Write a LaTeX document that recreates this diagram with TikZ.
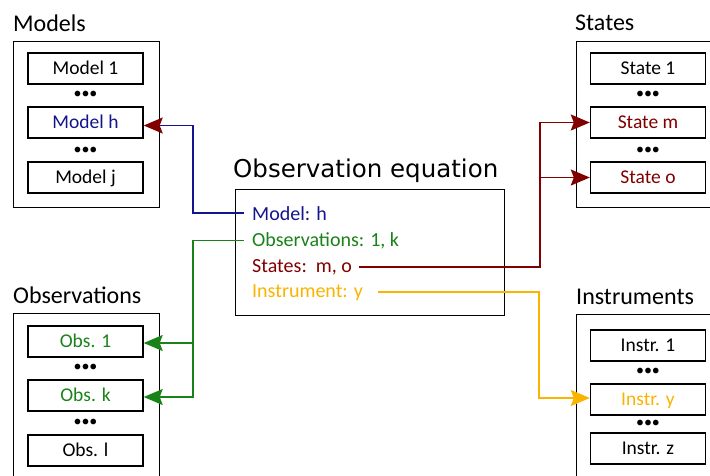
\documentclass[tikz,border=0pt]{standalone}
\usepackage{fontspec}
\setmainfont{Carlito}
\newfontfamily\eqfont{DejaVu Sans}
\usetikzlibrary{arrows.meta}
\definecolor{mblue}{RGB}{20,20,140}
\definecolor{mgreen}{RGB}{25,130,25}
\definecolor{mred}{RGB}{128,0,0}
\definecolor{mgold}{RGB}{250,180,0}
\begin{document}
\begin{tikzpicture}[x=1pt,y=-1pt,
  item/.style={draw, line width=1.4pt, minimum width=115pt, minimum height=31pt,
    inner sep=0pt, text height=14pt, text depth=2pt, font=\fontsize{19.5}{19.5}\selectfont},
  group/.style={draw, line width=1.4pt, anchor=north west, inner sep=0pt},
  heading/.style={anchor=base west, inner sep=0pt, font=\fontsize{24}{24}\selectfont},
  ellip/.style={inner sep=0pt, font=\fontsize{16}{16}\selectfont},
  lbl/.style={anchor=base west, inner sep=0pt, font=\fontsize{20}{20}\selectfont},
  conn/.style={line width=1.5pt},
  tip/.style={-{Stealth[length=19pt,width=16pt,inset=3pt,#1]}},
  tip/.default={}
]
\useasboundingbox (0,0) rectangle (710,475);

% ---- Models ----
\node[heading] (tmodels) at (13,31) {Models};
\node[group, minimum width=146pt, minimum height=166pt] (gmodels) at (13,41) {};
\node[item] (m1) at (85.5,68.5) {Model 1};
\node[ellip] (md1) at (85.5,95) {•••};
\node[item, text=mblue] (mh) at (85.5,122.5) {Model h};
\node[ellip] (md2) at (85.5,151) {•••};
\node[item] (mj) at (85.5,177.5) {Model j};

% ---- States ----
\node[heading] (tstates) at (575,30) {States};
\node[group, minimum width=150pt, minimum height=166pt] (gstates) at (576,41) {};
\node[item] (s1) at (648,68.5) {State 1};
\node[ellip] (sd1) at (648,95) {•••};
\node[item, text=mred] (sm) at (648,122.5) {State m};
\node[ellip] (sd2) at (648,151) {•••};
\node[item, text=mred] (so) at (648,177.5) {State o};

% ---- Observations ----
\node[heading] (tobs) at (13,303) {Observations};
\node[group, minimum width=146pt, minimum height=180pt] (gobs) at (13,313) {};
\node[item, text=mgreen] (o1) at (85.5,341.5) {Obs. 1};
\node[ellip] (od1) at (85.5,368) {•••};
\node[item, text=mgreen] (ok) at (85.5,395.5) {Obs. k};
\node[ellip] (od2) at (85.5,423) {•••};
\node[item] (ol) at (85.5,450.5) {Obs. l};

% ---- Instruments ----
\node[heading] (tinstr) at (576,304) {Instruments};
\node[group, minimum width=150pt, minimum height=180pt] (ginstr) at (576,314) {};
\node[item] (i1) at (648,345.5) {Instr. 1};
\node[ellip] (id1) at (648,372) {•••};
\node[item, text=mgold] (iy) at (648,399.5) {Instr. y};
\node[ellip] (id2) at (648,424) {•••};
\node[item] (iz) at (648,448.5) {Instr. z};

% ---- Observation equation ----
\node[anchor=base west, inner sep=0pt, font=\eqfont\fontsize{24.5}{24.5}\selectfont]
  (teq) at (233,177) {Observation equation};
\node[group, minimum width=269pt, minimum height=126pt] (geq) at (235,189) {};
\node[lbl, text=mblue] (lm) at (252,220) {Model: h};
\node[lbl, text=mgreen] (lo) at (252,246) {Observations: 1, k};
\node[lbl, text=mred] (ls) at (252,272) {States:\ \ m, o};
\node[lbl, text=mgold] (li) at (252,297) {Instrument: y};

% ---- connector end points ----
\coordinate (mhin) at ([yshift=-3pt]mh.east);
\coordinate (o1in) at ([yshift=-1.5pt]o1.east);
\coordinate (okin) at ([yshift=-1.5pt]ok.east);
\coordinate (iyin) at ([yshift=1.5pt]iy.west);
\coordinate (rbus) at ([xshift=-50pt]so.west);

% ---- connectors ----
\draw[conn, mblue, tip={color=mred}]
  ([xshift=-8pt]lm.west) -- ++(-51,0) |- (mhin);

\draw[conn, mgreen, tip]
  ([xshift=-8pt]lo.west) -- ++(-51,0) coordinate (gbus) |- (okin);
\draw[conn, mgreen, tip] (gbus |- o1in) -- (o1in);

\draw[conn, mred, tip]
  ([xshift=7pt]ls.east) -| (rbus) |- (sm.west);
\draw[conn, mred, tip] (rbus) -- (so.west);

\draw[conn, mgold, tip]
  ([xshift=15pt]li.east) -| ([xshift=-51pt]iyin) -- (iyin);
\end{tikzpicture}
\end{document}
